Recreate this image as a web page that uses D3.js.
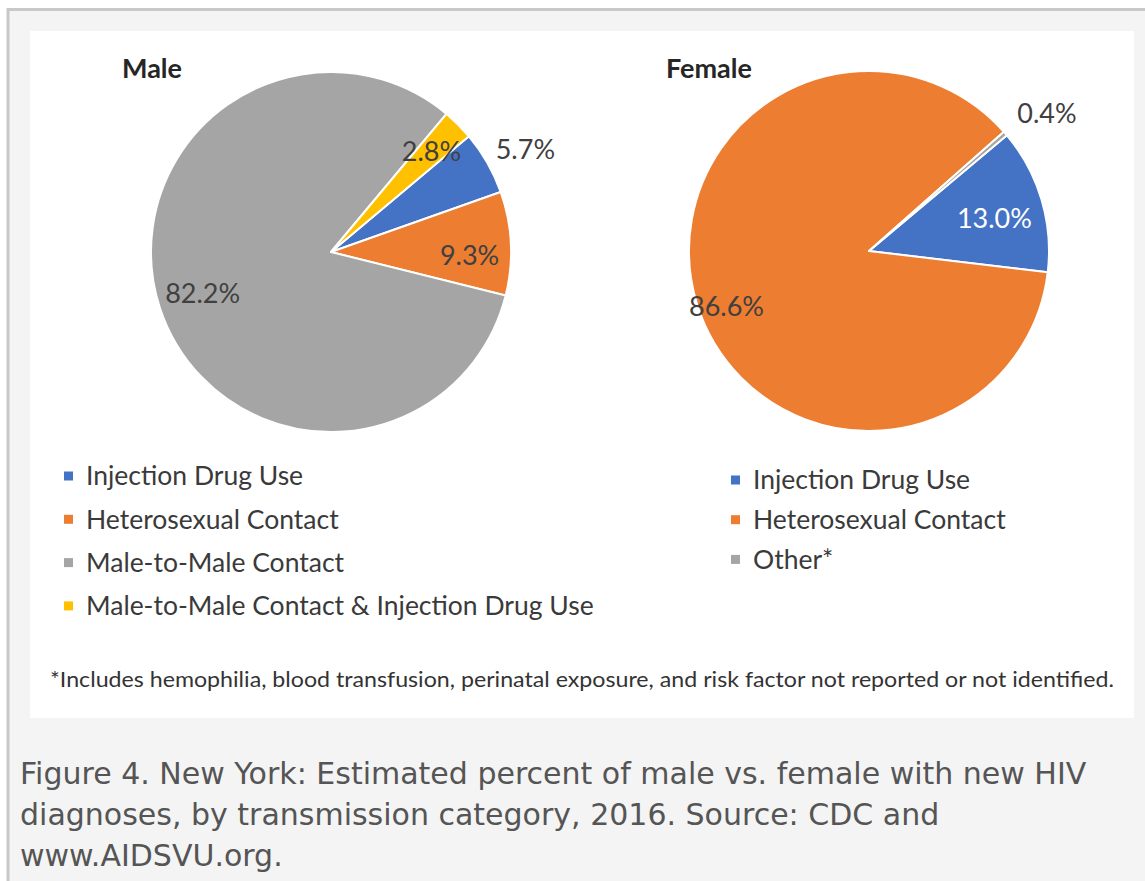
<!DOCTYPE html>
<html>
<head>
<meta charset="utf-8">
<script src="https://cdn.jsdelivr.net/npm/d3@7"></script>
<style>
  html, body { margin: 0; padding: 0; background: #ffffff; }
  svg { display: block; }
</style>
</head>
<body>
<svg id="chart" width="1145" height="881"></svg>
<script>
// Transmission categories and percentages, New York 2016
const maleCategories = ["Injection Drug Use", "Heterosexual Contact", "Male-to-Male Contact", "Male-to-Male Contact & Injection Drug Use"];
const maleValues = [5.7, 9.3, 82.2, 2.8];
const femaleCategories = ["Injection Drug Use", "Heterosexual Contact", "Other*"];
const femaleValues = [13.0, 86.6, 0.4];
const maleColors = ["#4472C4", "#ED7D31", "#A5A5A5", "#FFC000"];
const femaleColors = ["#4472C4", "#ED7D31", "#A5A5A5"];
const footnote = "*Includes hemophilia, blood transfusion, perinatal exposure, and risk factor not reported or not identified.";
const captionLines = [
  "Figure 4. New York: Estimated percent of male vs. female with new HIV",
  "diagnoses, by transmission category, 2016. Source: CDC and",
  "www.AIDSVU.org."
];

const svg = d3.select("#chart");
const W = 1145, H = 881;

// page frame
svg.append("rect").attr("x", 8).attr("y", 9).attr("width", W - 8).attr("height", H - 9).attr("fill", "#f4f4f4");
svg.append("path").attr("d", `M8,${H} V9.5 H${W}`).attr("fill", "none").attr("stroke", "#c8c8c8").attr("stroke-width", 3);

// white figure panel
svg.append("rect").attr("x", 30).attr("y", 31).attr("width", 1104).attr("height", 687).attr("fill", "#ffffff");

const deg = Math.PI / 180;
const firstSliceAngle = 50 * deg;
const radius = 180;
const chartFont = "Lato, 'Open Sans', sans-serif";

function drawPie(opts) {
  const g = svg.append("g").attr("transform", `translate(${opts.cx},${opts.cy})`);
  const pie = d3.pie().sort(null).value(d => d)
    .startAngle(firstSliceAngle).endAngle(firstSliceAngle + 2 * Math.PI);
  const arcs = pie(opts.values);
  const arc = d3.arc().innerRadius(0).outerRadius(radius);
  g.selectAll("path.slice").data(arcs).join("path")
    .attr("class", "slice")
    .attr("d", arc)
    .attr("fill", (d, i) => opts.colors[i])
    .attr("stroke", "#ffffff")
    .attr("stroke-width", 2)
    .attr("stroke-linejoin", "round");

  // data labels, placed along each slice's mid angle
  g.selectAll("text.lbl").data(arcs).join("text")
    .attr("class", "lbl")
    .attr("transform", (d, i) => {
      const a = (d.startAngle + d.endAngle) / 2 + opts.labelShift[i] * deg;
      const r = radius * opts.labelRadius[i];
      return `translate(${r * Math.sin(a)},${-r * Math.cos(a)})`;
    })
    .attr("text-anchor", "middle")
    .attr("dy", "0.35em")
    .attr("font-family", chartFont)
    .attr("font-size", 27)
    .attr("fill", (d, i) => opts.labelColors[i])
    .text(d => d3.format(".1f")(d.data) + "%");

  // chart title
  svg.append("text")
    .attr("x", opts.titleX).attr("y", 78)
    .attr("font-family", chartFont)
    .attr("font-weight", 700)
    .attr("font-size", 27)
    .attr("fill", "#262626")
    .text(opts.title);

  // legend
  const lg = svg.append("g").attr("transform", `translate(${opts.legendX},${opts.legendY})`);
  const rows = lg.selectAll("g").data(opts.categories).join("g")
    .attr("transform", (d, i) => `translate(0,${i * opts.legendStep})`);
  rows.append("rect").attr("x", 0).attr("y", -4.5).attr("width", 9).attr("height", 9)
    .attr("fill", (d, i) => opts.colors[i]);
  rows.append("text").attr("x", 22).attr("dy", "0.35em")
    .attr("font-family", chartFont)
    .attr("font-size", 26.5)
    .attr("fill", "#3a3a3a")
    .text(d => d);
}

drawPie({
  cx: 331, cy: 252, values: maleValues, colors: maleColors, categories: maleCategories,
  labelRadius: [1.22, 0.77, 0.75, 0.79], labelShift: [2, 4, 0, 0],
  labelColors: ["#404040", "#404040", "#404040", "#404040"],
  title: "Male", titleX: 122, legendX: 64, legendY: 476, legendStep: 43.3
});
drawPie({
  cx: 869, cy: 251, values: femaleValues, colors: femaleColors, categories: femaleCategories,
  labelRadius: [0.72, 0.85, 1.25], labelShift: [2, -4, 3],
  labelColors: ["#ffffff", "#404040", "#404040"],
  title: "Female", titleX: 666, legendX: 731, legendY: 480, legendStep: 39.7
});

// footnote
svg.append("text").attr("x", 50).attr("y", 680).attr("dy", "0.35em")
  .attr("font-family", chartFont).attr("font-size", 21).attr("fill", "#333333")
  .attr("textLength", 1064).attr("lengthAdjust", "spacingAndGlyphs")
  .text(footnote);

// caption under the figure
svg.append("g").selectAll("text").data(captionLines).join("text")
  .attr("x", 20).attr("y", (d, i) => 773 + i * 41).attr("dy", "0.35em")
  .attr("font-family", "'DejaVu Sans', Verdana, sans-serif")
  .attr("font-size", 30).attr("fill", "#555555")
  .text(d => d);
</script>
</body>
</html>
